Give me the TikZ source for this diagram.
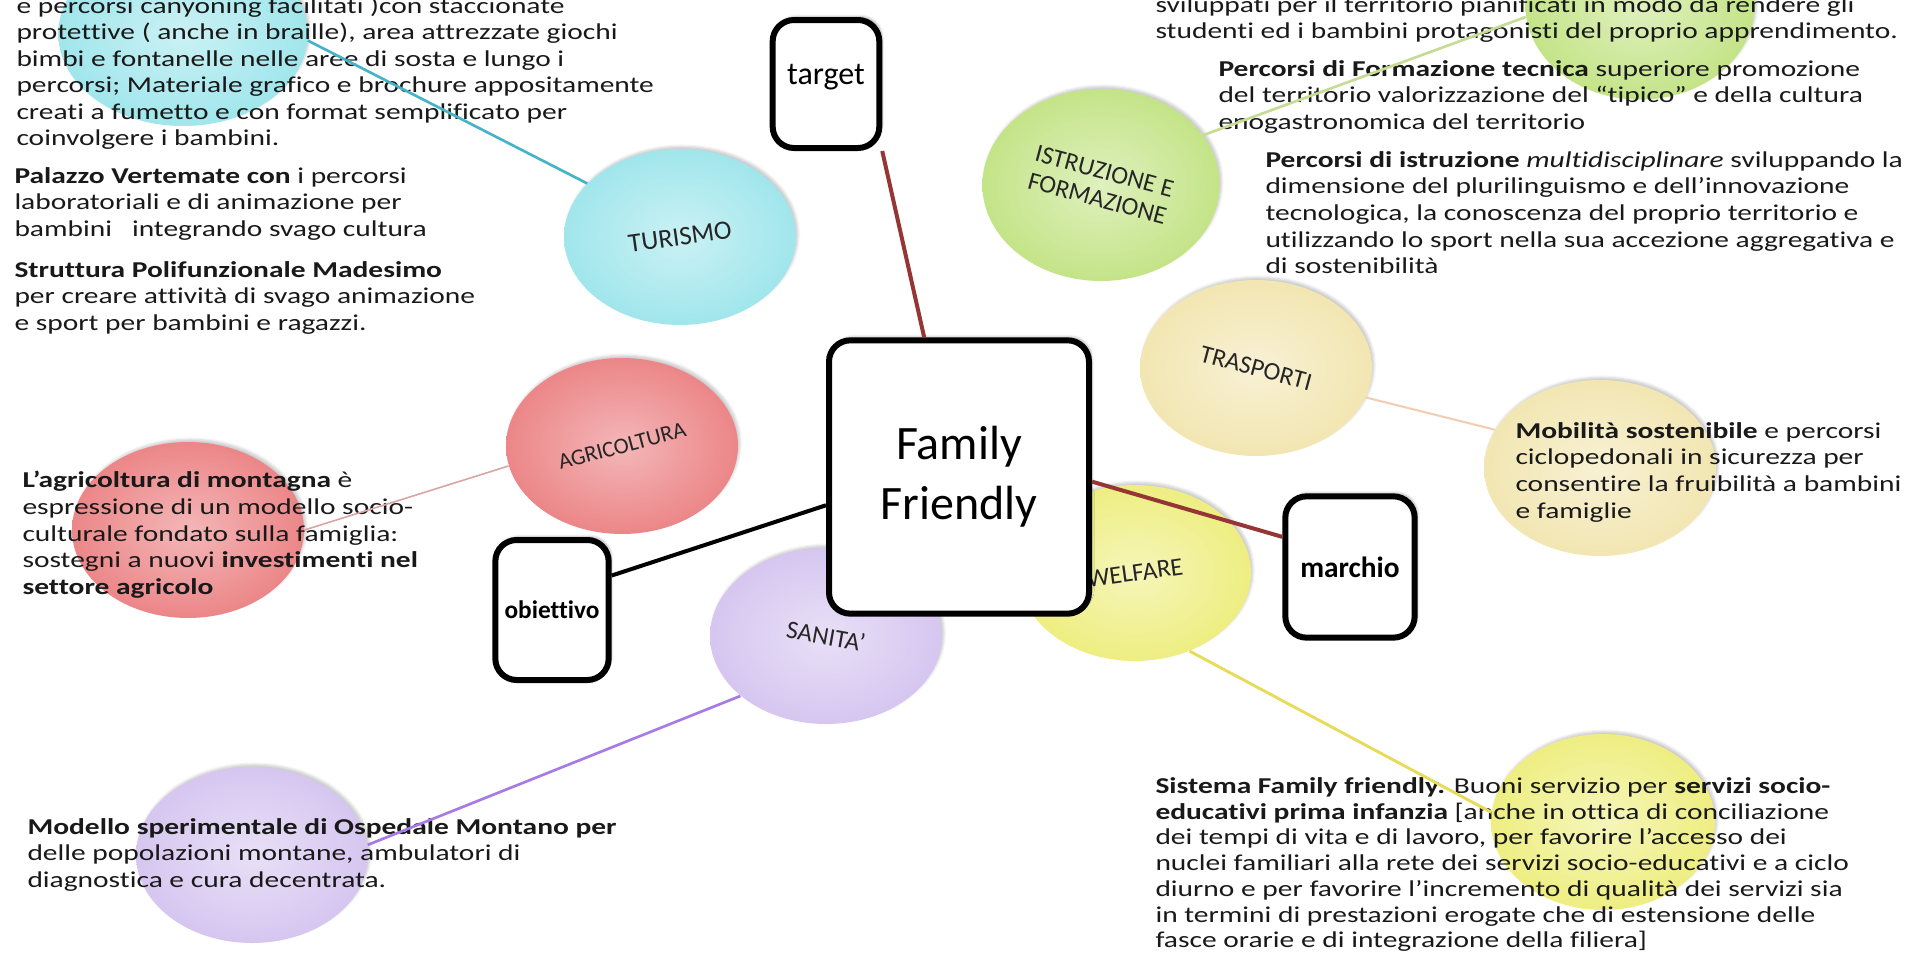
\documentclass[tikz,border=0pt]{standalone}
\usepackage{fontspec}
\setmainfont[Ligatures=CommonOff]{Carlito}
\newfontfamily\bodyfont[FakeStretch=1.3,Ligatures=CommonOff]{Carlito}
\usetikzlibrary{shapes.geometric}
\usetikzlibrary{shadows,shadows.blur}

\definecolor{turcol}{RGB}{160,230,236}
\definecolor{agrcol}{RGB}{236,134,136}
\definecolor{istcol}{RGB}{196,228,136}
\definecolor{tracol}{RGB}{242,230,178}
\definecolor{welcol}{RGB}{238,238,130}
\definecolor{sancol}{RGB}{214,198,240}
\definecolor{linkred}{RGB}{150,54,52}

\tikzset{every picture/.style={line width=0.75pt}}
\tikzset{
  bubble/.style={ellipse, minimum width=174pt, minimum height=132pt, inner sep=0pt,
    blur shadow={shadow xshift=1.5pt, shadow yshift=2pt, shadow opacity=20}},
  bubtext/.style={font=\fontsize{19}{21}\selectfont, text=black!85, align=center, inner sep=0pt},
  box/.style={draw=black, line width=4.5pt, rounded corners=16pt, fill=white, inner sep=0pt,
    blur shadow={shadow xshift=2pt, shadow yshift=2.5pt, shadow opacity=30}},
  body/.style={font=\bodyfont\fontsize{17}{19.9}\selectfont, align=left, anchor=north west,
    inner sep=0pt, text=black!90},
}

\begin{document}
\begin{tikzpicture}[x=0.75pt,y=0.75pt,yscale=-1,xscale=1]
\useasboundingbox (0,0) rectangle (1914,953);

% small bubbles behind the texts
\node[bubble, inner color=turcol!55, outer color=turcol, minimum width=187pt, minimum height=138pt] (turS) at (183,34) {};
\node[bubble, inner color=agrcol!60, outer color=agrcol] (agrS) at (188,530) {};
\node[bubble, inner color=sancol!55, outer color=sancol] (sanS) at (252,855) {};
\node[bubble, inner color=welcol!55, outer color=welcol, minimum width=168pt] (welS) at (1603,822) {};
\node[bubble, inner color=tracol!55, outer color=tracol] (traS) at (1600,468) {};
\node[bubble, inner color=istcol!55, outer color=istcol, minimum width=172pt, minimum height=142pt] (istS) at (1640,5) {};

% texts
\node[body] (turtxt) at (16,-4) {e percorsi  canyoning facilitati )con staccionate\\protettive ( anche in braille),  area attrezzate  giochi\\bimbi  e fontanelle nelle aree di sosta e lungo i\\percorsi; Materiale grafico e brochure appositamente\\creati a fumetto e con format semplificato per\\coinvolgere i bambini.};
\node[body] (paltxt) at (14,167) {\textbf{Palazzo Vertemate con} i percorsi\\laboratoriali e di animazione per\\bambini \ \ integrando svago cultura};
\node[body] (strtxt) at (14,261) {\textbf{Struttura Polifunzionale Madesimo}\\per creare attività di svago animazione\\e sport per bambini e ragazzi.};
\node[body] (agrtxt) at (22,471) {\textbf{L’agricoltura di montagna} è\\espressione di un modello socio-\\culturale fondato sulla famiglia:\\sostegni  a nuovi  \textbf{investimenti  nel}\\\textbf{settore agricolo}};
\node[body] (santxt) at (27,818) {\textbf{Modello sperimentale di Ospedale Montano per}\\delle popolazioni montane, ambulatori di\\diagnostica e cura decentrata.};
\node[body, font=\bodyfont\fontsize{17}{19.3}\selectfont] (weltxt) at (1155,777) {\textbf{Sistema Family friendly.}  Buoni servizio per \textbf{servizi socio-}\\\textbf{educativi prima infanzia} [anche in ottica di conciliazione\\dei tempi di vita e di lavoro, per favorire l’accesso dei\\nuclei familiari alla rete dei servizi socio-educativi e a ciclo\\diurno e per favorire l’incremento di qualità dei servizi sia\\in termini di prestazioni erogate che di estensione delle\\fasce orarie e di integrazione della filiera]};
\node[body] (isttxt) at (1155,-4) {sviluppati per il territorio pianificati in modo da rendere gli\\studenti  ed i bambini protagonisti del proprio apprendimento.};
\node[body] (fortxt) at (1218,60) {\textbf{Percorsi  di Formazione tecnica} superiore promozione\\del territorio valorizzazione del “tipico” e  della cultura\\enogastronomica del territorio};
\node[body] (multxt) at (1265,151) {\textbf{Percorsi di istruzione} \textit{multidisciplinare}  sviluppando la\\dimensione del plurilinguismo  e dell’innovazione\\tecnologica, la conoscenza del proprio territorio e\\utilizzando lo  sport nella sua accezione aggregativa e\\di sostenibilità};
\node[body] (tratxt) at (1515,422) {\textbf{Mobilità sostenibile} e percorsi\\ciclopedonali  in sicurezza per\\consentire la fruibilità a bambini\\e famiglie};

% main bubbles
\node[bubble, inner color=turcol!55, outer color=turcol] (tur) at (680,237) {};
\node[bubble, inner color=agrcol!60, outer color=agrcol] (agr) at (622,446) {};
\node[bubble, inner color=istcol!55, outer color=istcol, minimum width=178pt, minimum height=144pt] (ist) at (1101,185) {};
\node[bubble, inner color=tracol!55, outer color=tracol] (tra) at (1256,368) {};
\node[bubble, inner color=welcol!55, outer color=welcol] (wel) at (1135,573) {};
\node[bubble, inner color=sancol!55, outer color=sancol] (san) at (826,636) {};

% links between bubbles
\draw[color={rgb,255:red,70;green,180;blue,200}, line width=2pt] (turS.-3) -- (tur.150);
\draw[color={rgb,255:red,217;green,164;blue,164}, line width=1.2pt] (agrS.0) -- (agr.190);
\draw[color={rgb,255:red,167;green,123;blue,230}, line width=2pt] (sanS.5) -- (san.215);
\draw[color={rgb,255:red,230;green,220;blue,90}, line width=2.2pt] (wel.-55) -- (welS.175);
\draw[color={rgb,255:red,242;green,203;blue,176}, line width=1.5pt] (tra.-15) -- (traS.160);
\draw[color={rgb,255:red,198;green,220;blue,148}, line width=2pt] (ist.26) -- (istS.186);

% bubble labels
\node[bubtext, rotate=8, font=\fontsize{20}{22}\selectfont] (turL) at (tur) {TURISMO};
\node[bubtext, rotate=15, font=\fontsize{17}{19}\selectfont] (agrL) at (agr) {AGRICOLTURA};
\node[bubtext, rotate=-15] (istL) at (ist) {ISTRUZIONE E\\FORMAZIONE};
\node[bubtext, rotate=-15] (traL) at (tra) {TRASPORTI};
\node[bubtext, rotate=8] (welL) at (wel) {WELFARE};
\node[bubtext, rotate=-10] (sanL) at (san) {SANITA’};

% boxes
\node[box, minimum width=80pt, minimum height=96pt, text depth=15pt, font=\fontsize{24}{28}\selectfont] (target) at (826,84) {target};
\node[box, minimum width=195pt, minimum height=205pt, font=\fontsize{36}{45}\selectfont, align=center] (ff) at (959,477) {Family\\Friendly};
\node[box, minimum width=97pt, minimum height=106pt, font=\bfseries\fontsize{22}{26}\selectfont] (marchio) at (1350,567) {marchio};
\node[box, minimum width=85pt, minimum height=105pt, font=\bfseries\fontsize{19}{23}\selectfont] (obiettivo) at (552,610) {obiettivo};

% links from the centre
\draw[linkred, line width=3pt] (target.-50) -- (ff.104);
\draw[linkred, line width=3pt] (ff.-2) -- (marchio.156);
\draw[black, line width=3pt] (ff.192) -- (obiettivo.30);

\end{tikzpicture}
\end{document}
